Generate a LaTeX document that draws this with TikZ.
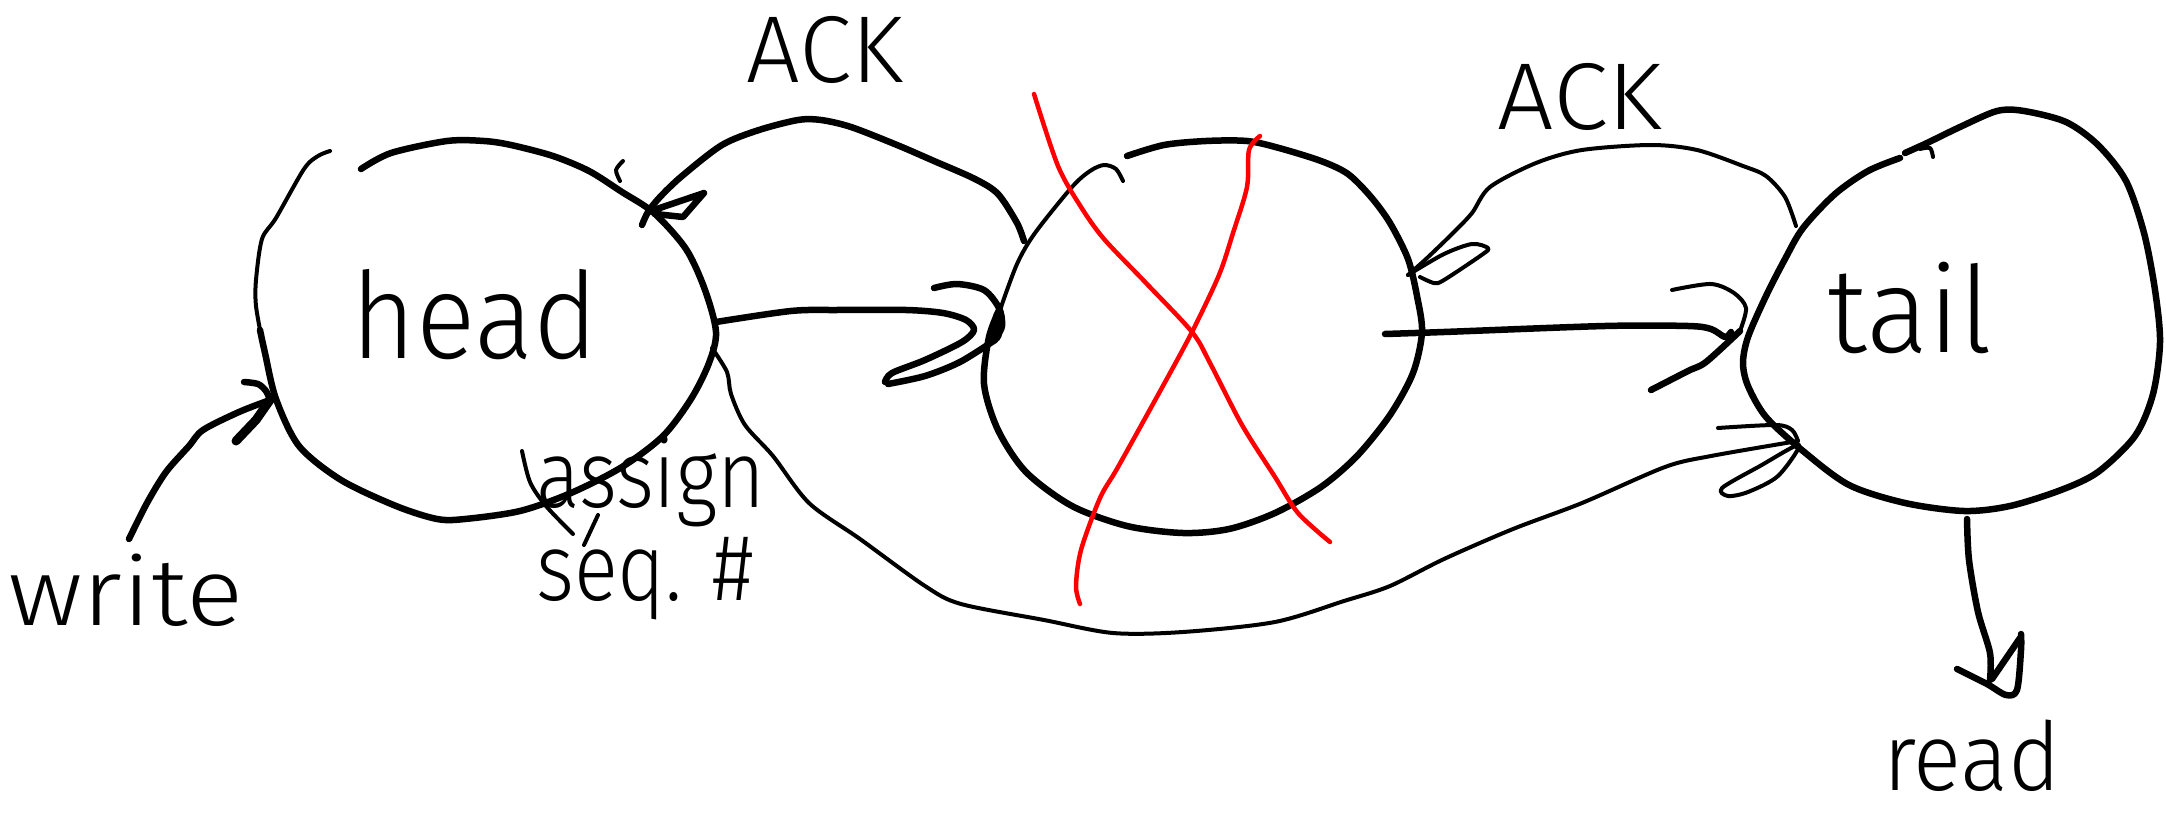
\documentclass[tikz,border=0pt]{standalone}
\usepackage{fontspec}
\newfontfamily\hand{Fira Sans Light}
\begin{document}
\begin{tikzpicture}[x=1pt,y=-1pt,
  stroke/.style={line width=6.5pt,line cap=round,line join=round},
  fine/.style={line width=4pt,line cap=round,line join=round},
  cross/.style={draw=red,line width=4.5pt,line cap=round,line join=round},
  lbl/.style={inner sep=0pt,anchor=base,font=\hand\fontsize{#1}{#1}\selectfont}]
\useasboundingbox (0,0) rectangle (2166,813);

% ---------- labels ----------
\node[lbl=120,xscale=0.92] (lblhead) at (475,358) {head};
\node[lbl=120,xscale=0.97] (lbltail) at (1910,352) {tail};
\node[lbl=95,xscale=1.12] (lblwrite) at (126,625) {write};
\node[lbl=95,xscale=0.94] (lblread) at (1972,790) {read};
\node[lbl=95] (lblackl) at (825,83) {ACK};
\node[lbl=95,xscale=1.05] (lblackr) at (1580,130) {ACK};
\node[inner sep=0pt,anchor=base west,align=left,xscale=0.86,
      font=\hand\fontsize{95}{93}\selectfont] (lblassign) at (536,600) {assign\\seq. \#};

% ---------- key points ----------
\coordinate (tipW) at (270,400);
\coordinate (tipAL) at (648,212);
\coordinate (tipHM) at (995,340);
\coordinate (tipMT) at (1740,331);
\coordinate (tipAR) at (1408,275);
\coordinate (tipLT) at (1798,441);
\coordinate (tipRd) at (1990,680);

% ---------- head ----------
\draw[stroke] plot[smooth] coordinates {(361,169) (391,153) (447,141) (484,141) (511,145)
  (553,156) (589,171) (622,192) (654,213) (686,249) (705,290) (716,332) (709,363) (691,399)
  (663,436) (622,467) (571,493) (520,511) (465,519) (437,519) (396,506) (341,480) (299,446)
  (276,399) (265,353) (260,330)};
\draw[fine] plot[smooth] coordinates {(262,340) (256,306) (256,280) (262,239) (276,218)
  (304,169) (318,156) (330,151)};
\draw[fine] plot[smooth] coordinates {(623,161) (616,170) (620,181)};

% ---------- middle ----------
\draw[stroke] plot[smooth] coordinates {(1127,156) (1164,145) (1206,141) (1247,141) (1279,148)
  (1321,161) (1348,174) (1371,197) (1390,223) (1408,259) (1417,296) (1422,332) (1413,373)
  (1390,415) (1357,456) (1321,487) (1275,513) (1229,529) (1183,533) (1127,526) (1072,506)
  (1026,472) (998,430) (984,384) (989,337) (1000,308)};
\draw[fine] plot[smooth] coordinates {(1000,310) (1017,264) (1035,233) (1072,187) (1090,171)
  (1104,165) (1116,169) (1123,181)};

% ---------- tail ----------
\draw[stroke] plot[smooth] coordinates {(1905,153) (1927,143) (1960,127) (1997,111) (2024,111)
  (2066,122) (2098,145) (2126,181) (2144,233) (2155,290) (2160,342) (2153,394) (2135,436)
  (2098,472) (2061,490) (2010,506) (1964,511) (1905,503) (1849,485) (1803,451) (1766,417)
  (1748,386) (1743,363) (1748,337) (1766,296) (1785,259) (1803,228) (1835,194) (1868,171)
  (1900,158)};
\draw[fine] plot[smooth] coordinates {(1920,149) (1930,148) (1933,157)};

% ---------- write -> head ----------
\draw[stroke] plot[smooth] coordinates {(129,539) (147,503) (166,472) (189,446) (203,430)
  (239,412) (tipW)};
\draw[line width=9pt,line cap=round] (236,441) -- (256,420) -- (tipW);
\draw[stroke] plot[smooth] coordinates {(244,382) (258,384) (266,391) (tipW)};

% ---------- ACK: middle -> head ----------
\draw[stroke] plot[smooth] coordinates {(1024,241) (1017,223) (998,194) (975,179) (934,161)
  (897,145) (851,127) (821,120) (798,120) (759,130) (722,145) (682,176) (660,197) (tipAL)
  (642,225)};
\draw[stroke] (tipAL) -- (704,193) -- (683,217) -- (655,214);

% ---------- head -> middle ----------
\draw[stroke] plot[smooth] coordinates {(716,322) (791,311) (837,310) (906,310) (943,313)
  (966,320) (974,330) (962,342) (925,360) (892,373) (885,382)};
\draw[stroke] plot[smooth] coordinates {(888,384) (925,376) (960,362) (tipHM)};
\draw[stroke] plot[smooth] coordinates {(934,288) (957,284) (984,290) (999,308) (1002,326)
  (tipHM)};
\draw[line width=11pt,line cap=round] (999,315) -- (996,336);

% ---------- middle -> tail ----------
\draw[stroke] plot[smooth] coordinates {(1385,334) (1444,332) (1605,326) (1688,326)
  (1711,329) (1725,337) (1731,332)};
\draw[fine] plot[smooth] coordinates {(1672,290) (1711,284) (1734,293) (1746,308) (tipMT)};
\draw[stroke] plot[smooth] coordinates {(1651,390) (1688,371) (1706,362) (tipMT)};

% ---------- ACK: tail -> middle ----------
\draw[fine] plot[smooth] coordinates {(1796,226) (1785,197) (1766,176) (1743,166) (1697,150)
  (1651,145) (1582,150) (1536,163) (1490,187) (1472,213) (1453,233) (1426,259) (tipAR)};
\draw[fine] plot[smooth] coordinates {(tipAR) (1444,254) (1472,244) (1488,248) (1483,254)
  (1444,280) (1434,283) (1420,277)};

% ---------- head -> tail (long way round) ----------
\draw[fine] plot[smooth] coordinates {(712,348) (727,372) (731,394) (745,425) (773,456)
  (809,503) (860,539) (925,586) (961,604) (1044,620) (1113,633) (1183,632) (1275,622)
  (1344,601) (1390,586) (1444,559) (1513,529) (1582,503) (1665,467) (1711,456) (tipLT)};
\draw[fine] plot[smooth] coordinates {(1718,428) (1776,425) (1792,430) (tipLT)};
\draw[fine] plot[smooth cycle] coordinates {(1799,445) (1760,466) (1722,488) (1728,496)
  (1748,492) (1778,476)};

% ---------- tail -> read ----------
\draw[stroke] plot[smooth] coordinates {(1967,519) (1969,560) (1978,612) (1990,653) (tipRd)};
\draw[stroke] plot[smooth] coordinates {(1957,669) (1987,684) (2006,695) (2017,690)
  (2021,650) (2021,634)};
\draw[stroke] (2020,638) -- (1992,679);

% ---------- pointer from the label to the head ----------
\draw[fine] plot[smooth] coordinates {(522,451) (530,482) (546,506) (573,534)};
\draw[fine] (598,515) -- (584,545);

% ---------- red cross over the middle ----------
\draw[cross] plot[smooth] coordinates {(1034,94) (1058,166) (1081,207) (1104,239) (1146,283)
  (1192,332) (1210,363) (1242,425) (1275,477) (1298,513) (1330,542)};
\draw[cross] plot[smooth] coordinates {(1260,136) (1249,150) (1247,187) (1233,233) (1219,275)
  (1192,332) (1164,384) (1118,467) (1100,498) (1081,550) (1076,586) (1080,604)};
\end{tikzpicture}
\end{document}
